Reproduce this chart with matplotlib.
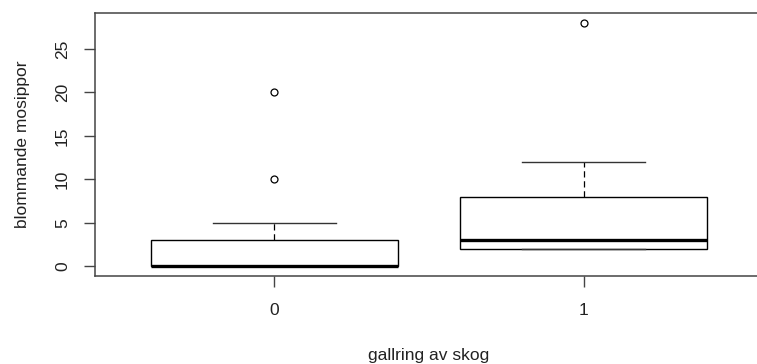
import matplotlib
matplotlib.use('Agg')
import matplotlib.pyplot as plt

# boxplot of flowering pasque flowers vs forest thinning (R style)

groups = ['0', '1']
whislo = [0, 2]
q1 = [0, 2]
med = [0, 3]
q3 = [3, 8]
whishi = [5, 12]
fliers = [[10, 20], [28]]

plt.rcParams['font.family'] = ['Liberation Sans', 'DejaVu Sans']

fig = plt.figure(figsize=(7.57, 3.64), dpi=100)
ax = fig.add_axes([95 / 757, 88 / 364, 668 / 757, 263 / 364])

stats = []
for i in range(len(groups)):
    stats.append(dict(label=groups[i], whislo=whislo[i], q1=q1[i], med=med[i],
                      q3=q3[i], whishi=whishi[i], fliers=fliers[i]))

ax.bxp(stats, positions=[1, 2], widths=0.8, patch_artist=True,
       boxprops=dict(facecolor='white', edgecolor='black', linewidth=1.0),
       medianprops=dict(color='black', linewidth=2.4, solid_capstyle='butt'),
       whiskerprops=dict(color='black', linewidth=0.9, linestyle=(0, (5, 3))),
       capprops=dict(color='#333333', linewidth=1.0),
       flierprops=dict(marker='o', markerfacecolor='none', markeredgecolor='black',
                       markersize=5.0, markeredgewidth=0.9),
       capwidths=0.4)

ax.set_xlim(0.42, 2.58)
ax.set_ylim(-1.12, 29.12)
ax.set_xticks([1, 2])
ax.set_xticklabels(groups)
ax.set_yticks([0, 5, 10, 15, 20, 25])
ax.set_yticklabels(['0', '5', '10', '15', '20', '25'], rotation=90, va='center')

for s in ax.spines.values():
    s.set_color('#444444')
    s.set_linewidth(1.1)

ax.tick_params(axis='both', colors='#444444', labelcolor='#222222',
               labelsize=12.5, length=8, width=1.0)
ax.tick_params(axis='x', pad=11.5)
ax.tick_params(axis='y', pad=10)

ax.set_xlabel('gallring av skog', fontsize=12.5, color='#222222')
ax.set_ylabel('blommande mosippor', fontsize=12.5, color='#222222')
ax.xaxis.set_label_coords(0.5, -0.304)
ax.xaxis.label.set_va('center')
ax.yaxis.set_label_coords(-0.108, 0.5)
ax.yaxis.label.set_va('center')
ax.yaxis.label.set_rotation_mode('default')

fig.savefig('out.png', dpi=100)
